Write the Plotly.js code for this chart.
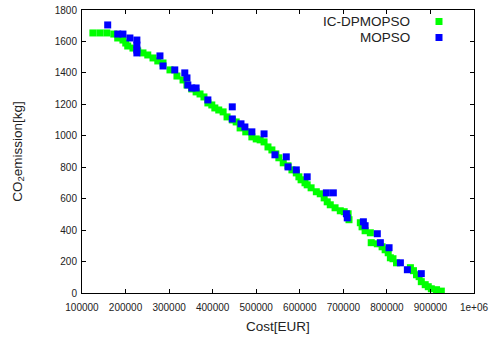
<!DOCTYPE html>
<html>
<head>
<meta charset="utf-8">
<script src="https://cdn.plot.ly/plotly-3.0.1.min.js"></script>
<style>html,body{margin:0;padding:0;background:#fff;}#chart{width:490px;height:340px;}</style>
</head>
<body>
<div id="chart"></div>
<script>
// IC-DPMOPSO (green)
var icCost = [125000,141000,157000,173000,182000,194000,200500,205000,217000,228000,240000,251000,263000,274000,286000,302000,318000,332000,341000,352000,362000,371000,380000,389000,398000,405000,414000,424000,433000,445000,454000,463000,476000,490000,500000,509000,518000,527000,536000,545000,552000,562000,573000,582000,592000,598000,603000,612000,617000,626000,638000,647000,656000,663000,670000,681000,693000,702000,711000,713000,739000,743000,750000,762000,764000,778000,789000,796000,803000,808000,814000,822000,854000,861000,868000,874000,879000,888000,895000,902000,914000,925000];
var icCO2 = [1654,1654,1654,1647,1622,1609,1590,1571,1558,1539,1527,1514,1495,1476,1463,1419,1380,1355,1323,1298,1279,1266,1247,1209,1196,1177,1164,1152,1120,1101,1088,1050,1025,993,980,974,961,929,910,885,860,828,809,783,764,739,720,701,688,669,644,631,605,580,561,542,523,517,504,466,447,421,396,383,320,313,294,275,256,224,218,192,161,142,116,104,72,53,40,27,21,12];
// MOPSO (blue)
var moCost = [159000,182000,194000,210000,226000,226000,226000,226000,279000,286000,313000,336000,341000,343000,352000,362000,389000,445000,445000,465000,474000,490000,518000,543000,569000,573000,592000,617000,661000,677000,707000,709000,746000,750000,778000,785000,805000,831000,847000,879000];
var moCO2 = [1705,1647,1647,1622,1609,1577,1546,1527,1508,1444,1419,1400,1368,1323,1304,1304,1228,1184,1107,1076,1056,1025,1012,879,866,802,783,739,637,637,504,478,453,428,377,320,288,192,148,123];
var seriesNames = ["IC-DPMOPSO", "MOPSO"];
var xTickVals = [100000,200000,300000,400000,500000,600000,700000,800000,900000,1000000];
var xTickText = ["100000","200000","300000","400000","500000","600000","700000","800000","900000","1e+06"];
var yTickVals = [0,200,400,600,800,1000,1200,1400,1600,1800];

var green = "#00ff00", blue = "#0000ff";
var traces = [
  {x: icCost, y: icCO2, name: seriesNames[0], type: "scatter", mode: "markers",
   marker: {symbol: "square", size: 7, color: green, line: {width: 0}}},
  {x: moCost, y: moCO2, name: seriesNames[1], type: "scatter", mode: "markers",
   marker: {symbol: "square", size: 7, color: blue, line: {width: 0}}}
];

var tickFont = {family: "Liberation Sans, Arial, sans-serif", size: 10, color: "#222"};
var titleFont = {family: "Liberation Sans, Arial, sans-serif", size: 13.5, color: "#222"};

var layout = {
  width: 490, height: 340,
  margin: {l: 82, r: 16, t: 10, b: 47},
  paper_bgcolor: "#fff", plot_bgcolor: "#fff",
  showlegend: false,
  xaxis: {
    range: [100000, 1000000], tickvals: xTickVals, ticktext: xTickText,
    ticks: "inside", ticklen: 4, tickcolor: "#000", tickwidth: 1,
    showline: true, linecolor: "#000", linewidth: 1, mirror: "ticks",
    showgrid: false, zeroline: false, tickfont: tickFont, ticklabelstandoff: 5,
    title: {text: "Cost[EUR]", font: titleFont, standoff: 9}
  },
  yaxis: {
    range: [0, 1800], tickvals: yTickVals,
    ticks: "inside", ticklen: 4, tickcolor: "#000", tickwidth: 1,
    showline: true, linecolor: "#000", linewidth: 1, mirror: "ticks",
    showgrid: false, zeroline: false, tickfont: tickFont, ticklabelstandoff: 2,
    title: {text: "CO<sub>2</sub>emission[kg]", font: titleFont, standoff: 29}
  },
  annotations: [
    {text: seriesNames[0], xref: "paper", yref: "paper", x: 0.842, y: 0.9594,
     xanchor: "right", yanchor: "middle", showarrow: false, font: titleFont},
    {text: seriesNames[1], xref: "paper", yref: "paper", x: 0.842, y: 0.9028,
     xanchor: "right", yanchor: "middle", showarrow: false, font: titleFont}
  ],
  shapes: [
    {type: "rect", xref: "paper", yref: "paper", xsizemode: "pixel", ysizemode: "pixel",
     xanchor: 0.9107, yanchor: 0.9594, x0: -3.5, x1: 3.5, y0: -3.5, y1: 3.5,
     fillcolor: green, line: {width: 0}},
    {type: "rect", xref: "paper", yref: "paper", xsizemode: "pixel", ysizemode: "pixel",
     xanchor: 0.9107, yanchor: 0.9028, x0: -3.5, x1: 3.5, y0: -3.5, y1: 3.5,
     fillcolor: blue, line: {width: 0}}
  ]
};

Plotly.newPlot("chart", traces, layout, {displayModeBar: false, staticPlot: true});
</script>
</body>
</html>
